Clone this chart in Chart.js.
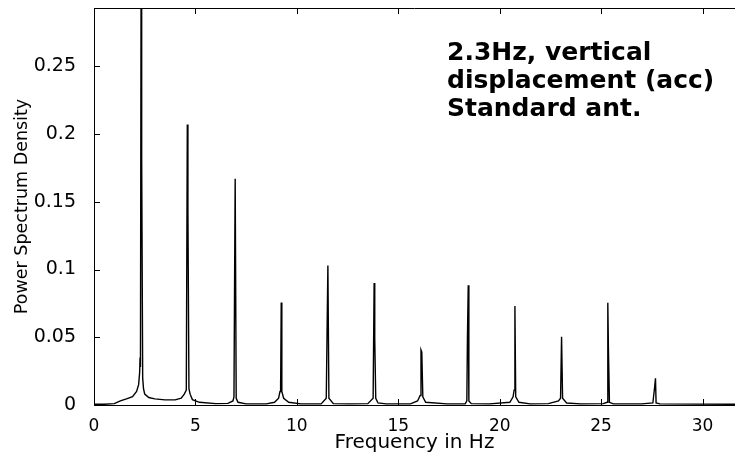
<!DOCTYPE html>
<html>
<head>
<meta charset="utf-8">
<script src="https://cdn.jsdelivr.net/npm/chart.js@4.4.1/dist/chart.umd.min.js"></script>
<style>
  html, body { margin: 0; padding: 0; background: #fff; }
  #wrap { width: 735px; height: 456px; }
</style>
</head>
<body>
<div id="wrap"><canvas id="psdChart" width="735" height="456"></canvas></div>
<script>
// spectrum samples (Hz / PSD)
const freqHz = [
  0.00, 0.50, 1.00, 1.30, 1.60, 1.90, 2.10, 2.20, 2.25, 2.27, 2.29, 2.32, 2.35, 2.40, 2.44, 2.50, 2.70, 3.00, 3.50, 4.00,
  4.30, 4.45, 4.55, 4.60, 4.63, 4.68, 4.74, 4.85, 5.20, 6.00, 6.60, 6.85, 6.90, 6.93, 6.96, 7.01, 7.10, 7.50,
  8.50, 8.90, 9.10, 9.17, 9.19, 9.21, 9.23, 9.26, 9.35, 9.60, 10.2,
  11.2, 11.45, 11.53, 11.58, 11.80, 12.6,
  13.5, 13.76, 13.81, 13.84, 13.89, 14.0, 14.4,
  15.6, 15.95, 16.08, 16.12, 16.16, 16.21, 16.35, 17.4,
  18.3, 18.38, 18.41, 18.45, 18.48, 18.6, 19.5,
  20.5, 20.66, 20.71, 20.75, 20.79, 20.95, 21.5,
  22.4, 22.9, 23.00, 23.05, 23.10, 23.3, 24.0,
  25.1, 25.30, 25.33, 25.36, 25.41, 25.6,
  27.0, 27.55, 27.64, 27.68, 27.71, 27.9, 31.6
];
const psd = [
  0.0005, 0.0006, 0.0010, 0.0030, 0.0045, 0.0062, 0.0100, 0.0150, 0.0240, 0.0350, 0.0280, 0.3000, 0.1830, 0.0200, 0.0120, 0.0080, 0.0055, 0.0045, 0.0038, 0.0038,
  0.0050, 0.0080, 0.0110, 0.2070, 0.1430, 0.0120, 0.0080, 0.0040, 0.0020, 0.0010, 0.0012, 0.0030, 0.0060, 0.0900, 0.1670, 0.0050, 0.0020, 0.0008,
  0.0008, 0.0020, 0.0050, 0.0100, 0.0180, 0.0120, 0.0757, 0.0100, 0.0050, 0.0020, 0.0008,
  0.0008, 0.0050, 0.1030, 0.0050, 0.0010, 0.0008,
  0.0010, 0.0050, 0.0900, 0.0487, 0.0050, 0.0015, 0.0008,
  0.0008, 0.0030, 0.0070, 0.0406, 0.0390, 0.0060, 0.0020, 0.0008,
  0.0008, 0.0030, 0.0504, 0.0883, 0.0030, 0.0010, 0.0008,
  0.0020, 0.0060, 0.0110, 0.0730, 0.0060, 0.0020, 0.0008,
  0.0010, 0.0030, 0.0050, 0.0504, 0.0050, 0.0015, 0.0008,
  0.0010, 0.0020, 0.0755, 0.0413, 0.0020, 0.0008,
  0.0008, 0.0015, 0.0135, 0.0197, 0.0015, 0.0008, 0.0005
];
const xTicks = [0, 5, 10, 15, 20, 25, 30];
const yTicks = [0, 0.05, 0.1, 0.15, 0.2, 0.25];
const noteLines = ['2.3Hz, vertical', 'displacement (acc)', 'Standard ant.'];

Chart.defaults.font.family = '"DejaVu Sans", sans-serif';
Chart.defaults.color = '#000';

// matlab style box: top edge, inward tick marks, text note
const matlabFrame = {
  id: 'matlabFrame',
  afterDraw(chart) {
    const {ctx, chartArea: a, scales: {x, y}} = chart;
    ctx.save();
    ctx.strokeStyle = '#000';
    ctx.lineWidth = 1;
    ctx.beginPath();
    ctx.moveTo(a.left, Math.round(a.top) + 0.5);
    ctx.lineTo(a.right, Math.round(a.top) + 0.5);
    for (const v of xTicks) {
      const px = Math.round(x.getPixelForValue(v)) + 0.5;
      ctx.moveTo(px, a.bottom); ctx.lineTo(px, a.bottom - 6);
      ctx.moveTo(px, a.top); ctx.lineTo(px, a.top + 6);
    }
    for (const v of yTicks) {
      const py = Math.round(y.getPixelForValue(v)) + 0.5;
      ctx.moveTo(a.left, py); ctx.lineTo(a.left + 6, py);
    }
    ctx.stroke();

    ctx.fillStyle = '#000';
    ctx.font = 'bold 25px "DejaVu Sans"';
    ctx.textBaseline = 'alphabetic';
    noteLines.forEach((t, i) => ctx.fillText(t, 447, 60 + i * 28));
    ctx.restore();
  }
};

const ctx = document.getElementById('psdChart').getContext('2d');
const psdChart = new Chart(ctx, {
  type: 'line',
  data: {
    datasets: [{
      data: freqHz.map((f, i) => ({x: f, y: psd[i]})),
      borderColor: '#000',
      borderWidth: 1.4,
      pointRadius: 0,
      tension: 0,
      fill: false
    }]
  },
  options: {
    responsive: false,
    animation: false,
    layout: { padding: { top: 8, right: 0, bottom: 0, left: 0 } },
    plugins: { legend: { display: false }, tooltip: { enabled: false } },
    scales: {
      x: {
        type: 'linear',
        min: 0,
        max: 31.6,
        grid: { display: false },
        border: { display: true, color: '#000', width: 1 },
        afterBuildTicks: s => { s.ticks = xTicks.map(v => ({value: v})); },
        afterFit: s => { s.height = 51; s.paddingLeft = 0; s.paddingRight = 0; },
        ticks: { font: { size: 17 }, padding: 3, maxRotation: 0, autoSkip: false },
        title: { display: true, text: 'Frequency in Hz', font: { size: 20 }, padding: { top: 0, bottom: 1 } }
      },
      y: {
        min: 0,
        max: 0.293,
        grid: { display: false },
        border: { display: true, color: '#000', width: 1 },
        afterBuildTicks: s => { s.ticks = yTicks.map(v => ({value: v})); },
        afterFit: s => { s.width = 94; s.paddingTop = 0; s.paddingBottom = 0; },
        ticks: { font: { size: 19 }, padding: 10, callback: v => String(+v.toFixed(2)) },
        title: { display: true, text: 'Power Spectrum Density', font: { size: 17.5 }, padding: { top: 12, bottom: 0 } }
      }
    }
  },
  plugins: [matlabFrame]
});
</script>
</body>
</html>
